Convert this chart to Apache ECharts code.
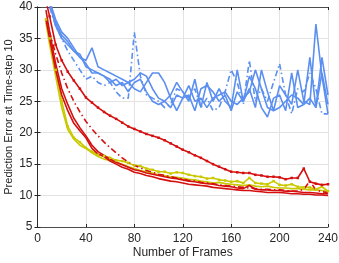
<!DOCTYPE html>
<html><head><meta charset="utf-8">
<script src="https://cdn.jsdelivr.net/npm/echarts@6/dist/echarts.min.js"></script>
<style>html,body{margin:0;padding:0;background:#fff}#c{width:339px;height:263px}</style>
</head><body><div id="c"></div>
<script>
const framesRY = [7,10,15,20,25,30,35,40,45,50,55,60,65,70,75,80,85,90,95,100,105,110,115,120,125,130,135,140,145,150,155,160,165,170,175,180,185,190,195,200,205,210,215,220,225,230,235,240];
const framesB = framesRY;
const xTicks = [0,40,80,120,160,200,240];
const yTicks = [5,10,15,20,25,30,35,40];

const redMarked = [41,38.5,34,31.5,29.7,28.3,27,25.6,24.8,24,23.3,22.7,22.2,21.6,21,20.6,20.2,19.8,19.5,19.2,18.8,18.3,17.8,17.3,16.9,16.4,16,15.5,15,14.6,14.2,13.8,13.7,13.6,13.6,13.3,13.2,13,13,12.9,12.6,12.8,12.8,14.3,12.2,11.9,11.7,11.8];
const redDashDot = [38.2,36,32.5,29.5,27,25,23.3,21.8,20.6,19.5,18.5,17.6,16.8,16,15.3,14.8,14.4,14,13.7,13.4,13.2,13,12.8,12.6,12.4,12.3,12.1,12,11.9,11.7,11.6,11.5,11.4,11.3,11.2,11.1,11,11,10.9,10.9,10.8,10.7,10.7,11,12.3,10.9,10.6,10.5];
const redA = [38,35,30,26,23.5,21.5,20.3,19.2,17.5,16.6,16.2,15.5,15,14.5,14.2,13.7,13.5,13.2,13,12.7,12.5,12.3,12.2,12,11.8,11.7,11.6,11.5,11.3,11.2,11.1,11,10.9,10.8,10.8,10.7,10.6,10.5,10.5,10.5,10.4,10.3,10.3,10.2,10.2,10.1,10.1,10];
const redB = [39.5,36,31,27,24.5,22.3,20.8,19.5,18,17,16.4,15.8,15.3,14.9,14.5,14.1,13.9,13.6,13.4,13.2,13,12.8,12.7,12.5,12.3,12.2,12,11.9,11.8,11.6,11.5,11.4,11.2,11.1,11.6,11,10.9,10.9,10.8,10.8,10.7,10.7,10.6,10.5,10.5,10.4,10.3,10.3];
const yellowA = [38,35,30,25,21,19.2,18.5,17.6,17,16.5,16.3,16,15.6,15.5,15.2,14.8,14.7,14.3,14.1,13.8,13.8,13.5,13.7,13.6,13.3,13.1,13,12.7,12.8,12.5,12.4,12.2,12.3,12,12.8,12,11.9,11.8,12.3,11.7,11.6,11.8,11.4,11.3,11.3,11,11.4,10.7];
const yellowB = [37.5,34,29,24,20.5,19,18,17.5,16.8,16.2,15.8,15.6,15.3,15,14.6,14.3,14,13.8,13.6,13.3,13.2,13,12.9,12.8,12.6,12.5,12.3,12.2,12,12.1,11.9,11.8,11.7,11.6,11.7,11.5,11.4,11.5,11.3,11.2,11.2,11.1,11.1,11,10.9,10.9,10.8,10.7];
const blue1 = [43,40.5,37,35,34,33,32,31.5,33.5,30.5,30,29.5,29,28.5,28,28.5,29.5,29,27,25.5,25,26,28,26.5,25,28.5,24,28,25,27,25,24,30,25,27,24,30,26.5,23.5,27.5,26,24.5,30,25,24.5,37.3,29,23];
const blue2 = [42.5,40.5,37.5,35.5,34.5,33,32.5,30.5,30,29.5,29,28,28.5,27.5,28,27,26.5,28,29.5,29.5,28,25.5,23.5,25.5,26,23.5,27,27.5,26.5,25,26,23.5,26.5,25,29,27,24,22.5,25.5,26,23.5,29.5,24,24.5,32,24,32,26];
const blue3 = [43.5,41,38,36,35,33.5,32,31,29.5,29.5,29,28.5,27.5,28,26.5,28,28.5,26.5,25,24.5,25,24,26,25.5,27.5,25,25.5,24,25.5,26,26.5,25,24.5,25.5,26.5,30,27,24,23.5,24,25,26,25.5,24.5,25.5,24,29.5,24.5];
const blueDashDot = [42,40,37,35,33,31.5,30,28.5,29,28,27.5,28,26.5,25.5,25.5,36,29,26,25.5,25,24,24.5,27,26.5,25.5,27,24,25.5,23.5,24,26.5,30,28,24.5,31.5,25,27,25,28,31,26,23,27,26.5,29.5,27,23,23];

const BLUE = '#5b8ff0', RED = '#d50f0f', YEL = '#c9c900';
const DASHDOT = [6,3,1.5,3];
const pair = (xs, ys) => xs.map((x, i) => [x, ys[i]]);
function line(name, xs, ys, color, dash, sym) {
  return {
    name, type: 'line', data: pair(xs, ys), clip: true, animation: false,
    showSymbol: !!sym, symbol: 'rect', symbolSize: sym || 0,
    itemStyle: {color},
    lineStyle: {color, width: 1.6, type: dash || 'solid'}
  };
}
const txt = '#262626';
const font = 'Liberation Sans';
const chart = echarts.init(document.getElementById('c'), null, {renderer: 'canvas'});
chart.setOption({
  backgroundColor: '#fff',
  animation: false,
  grid: {left: 37.5, right: 11, top: 7, bottom: 36, containLabel: false, outerBoundsMode: 'none'},
  xAxis: [{
    type: 'value', min: 0, max: 240, interval: 40, position: 'bottom',
    name: 'Number of Frames', nameLocation: 'middle', nameGap: 20, nameMoveOverlap: false,
    nameTextStyle: {color: txt, fontSize: 12, fontFamily: font},
    axisLine: {lineStyle: {color: txt, width: 0.8}},
    axisTick: {inside: true, length: 3, lineStyle: {color: txt}},
    axisLabel: {color: txt, fontSize: 12, fontFamily: font, margin: 6},
    splitLine: {show: true, lineStyle: {color: '#e3e3e3', width: 1}}
  }, {
    type: 'value', min: 0, max: 240, interval: 40, position: 'top',
    axisLine: {lineStyle: {color: txt, width: 0.8}},
    axisTick: {inside: true, length: 3, lineStyle: {color: txt}},
    axisLabel: {show: false}, splitLine: {show: false}
  }],
  yAxis: [{
    type: 'value', min: 5, max: 40, interval: 5, position: 'left',
    name: 'Prediction Error at Time-step 10', nameLocation: 'middle', nameGap: 23, nameMoveOverlap: false,
    nameTextStyle: {color: txt, fontSize: 11, fontFamily: font},
    axisLine: {show: true, lineStyle: {color: txt, width: 0.8}},
    axisTick: {show: true, inside: true, length: 3, lineStyle: {color: txt}},
    axisLabel: {color: txt, fontSize: 12, fontFamily: font, margin: 5},
    splitLine: {show: true, lineStyle: {color: '#e3e3e3', width: 1}}
  }, {
    type: 'value', min: 5, max: 40, interval: 5, position: 'right',
    axisLine: {show: true, lineStyle: {color: txt, width: 0.8}},
    axisTick: {show: true, inside: true, length: 3, lineStyle: {color: txt}},
    axisLabel: {show: false}, splitLine: {show: false}
  }],
  series: [
    line('blue1', framesB, blue1, BLUE),
    line('blue2', framesB, blue2, BLUE),
    line('blue3', framesB, blue3, BLUE),
    line('blueDashDot', framesB, blueDashDot, BLUE, DASHDOT),
    line('yellowB', framesRY, yellowB, YEL),
    line('yellowA', framesRY, yellowA, YEL, null, 2.5),
    line('redA', framesRY, redA, RED),
    line('redB', framesRY, redB, RED),
    line('redDashDot', framesRY, redDashDot, RED, DASHDOT),
    line('redMarked', framesRY, redMarked, RED, null, 2.5)
  ]
});
</script></body></html>
